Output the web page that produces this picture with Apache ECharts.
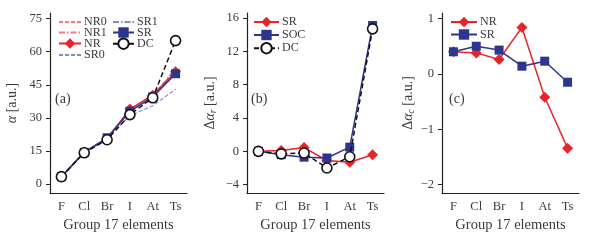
<!DOCTYPE html>
<html><head><meta charset="utf-8">
<script src="https://cdn.jsdelivr.net/npm/echarts@6/dist/echarts.min.js"></script>
<style>html,body{margin:0;padding:0;background:#fff}#c{width:590px;height:240px}</style>
</head><body><div id="c"></div>
<script>
const categories = ['F','Cl','Br','I','At','Ts'];
// panel (a): polarizability alpha
const aNR0 = [3.3, 14.6, 20.5, 33.5, 40.6, 51.6];
const aNR1 = [3.3, 14.5, 20.5, 33.8, 40.3, 51.1];
const aNR  = [3.4, 14.6, 20.5, 34.0, 40.3, 50.9];
const aSR0 = [3.3, 14.2, 20.8, 31.0, 35.5, 43.0];
const aSR1 = [3.3, 14.4, 21.2, 33.0, 39.0, 53.0];
const aSR  = [3.4, 14.4, 21.0, 33.0, 39.5, 50.0];
const aDC  = [3.4, 14.2, 20.1, 31.5, 39.1, 65.0];
// panel (b): delta alpha_r
const bSR  = [0.0, 0.1, 0.45, -1.1, -1.3, -0.4];
const bSOC = [0.0, -0.4, -0.7, -0.8, 0.5, 15.1];
const bDC  = [0.0, -0.3, -0.2, -2.0, -0.65, 14.7];
// panel (c): delta alpha_c
const cNR = [0.40, 0.38, 0.26, 0.84, -0.42, -1.34];
const cSR = [0.40, 0.50, 0.43, 0.14, 0.23, -0.15];
// tick labels
const aTicks = [0, 15, 30, 45, 60, 75];
const bTicks = [-4, 0, 4, 8, 12, 16];
const cTicks = [-2, -1, 0, 1];

const RED = '#e8242a', BLUE = '#2d3590', FONT = 'Liberation Serif', TXT = '#3a3a3a';
const chart = echarts.init(document.getElementById('c'), null, {renderer: 'canvas'});

const lefts = [50, 247, 442];
const grids = lefts.map(l => ({left: l, top: 13, width: 137, height: 180}));
const xAxes = lefts.map((l, i) => ({
  type: 'category', gridIndex: i, data: categories, boundaryGap: true,
  axisLine: {onZero: false, lineStyle: {color: '#222', width: 1.2}},
  axisTick: {alignWithLabel: true, length: 4, lineStyle: {color: '#222'}},
  axisLabel: {color: TXT, fontFamily: FONT, fontSize: 12.5, margin: 7},
  name: 'Group 17 elements', nameLocation: 'middle', nameGap: 22,
  nameTextStyle: {color: TXT, fontFamily: FONT, fontSize: 14.5}
}));
const fmt = v => String(v).replace('-', '\u2212');
function yAx(i, min, max, ticks, name, gap) {
  return {
    type: 'value', gridIndex: i, min: min, max: max, splitLine: {show: false},
    axisLine: {show: true, onZero: false, lineStyle: {color: '#222', width: 1.2}},
    axisTick: {show: true, length: 4, customValues: ticks, lineStyle: {color: '#222'}},
    axisLabel: {color: TXT, fontFamily: FONT, fontSize: 12.5, margin: 8, customValues: ticks, formatter: fmt},
    name: name, nameLocation: 'middle', nameRotate: 90, nameGap: gap,
    nameTextStyle: {color: TXT, fontFamily: FONT, fontSize: 14,
      rich: {
        i: {fontFamily: FONT, fontStyle: 'italic', fontSize: 14, color: TXT, lineHeight: 16},
        n: {fontFamily: FONT, fontSize: 14, color: TXT, lineHeight: 16},
        s: {fontFamily: FONT, fontStyle: 'italic', fontSize: 9.5, color: TXT, lineHeight: 9, verticalAlign: 'bottom'}
      }}
  };
}
const yAxes = [
  yAx(0, -4, 77.5, aTicks, '{i|α} {n|[a.u.]}', 30),
  yAx(1, -5, 16.6, bTicks, '{n|Δ}{i|α}{s|r}{n| [a.u.]}', 29),
  yAx(2, -2.15, 1.1, cTicks, '{n|Δ}{i|α}{s|c}{n| [a.u.]}', 26)
];

function line(name, data, idx, opt) {
  return Object.assign({
    type: 'line', name: name, data: data, xAxisIndex: idx, yAxisIndex: idx,
    animation: false, showSymbol: true
  }, opt);
}
const thin = (color, type, z) => ({symbol: 'none', z: z, lineStyle: {color: color, width: 1.1, type: type, opacity: 0.75}, itemStyle: {color: color, opacity: 0.75}});
const nrStyle = z => ({symbol: 'diamond', symbolSize: 11, z: z, lineStyle: {color: RED, width: 1.5}, itemStyle: {color: RED}});
const srStyle = z => ({symbol: 'rect', symbolSize: 9, z: z, lineStyle: {color: BLUE, width: 1.5}, itemStyle: {color: BLUE}});
const dcStyle = z => ({symbol: 'circle', symbolSize: 10, z: z, lineStyle: {color: '#111', width: 1.5, type: [5, 3]}, itemStyle: {color: '#fff', borderColor: '#111', borderWidth: 1.6}});

const series = [
  line('NR0', aNR0, 0, thin('#f05050', [4, 2], 2)),
  line('NR1', aNR1, 0, thin('#f05050', [6, 2, 1.5, 2], 2)),
  line('SR0', aSR0, 0, thin('#5a63b0', [4, 2], 2)),
  line('SR1', aSR1, 0, thin('#5a63b0', [6, 2, 1.5, 2], 2)),
  line('NR', aNR, 0, nrStyle(3)),
  line('SR', aSR, 0, srStyle(4)),
  line('DC', aDC, 0, dcStyle(5)),
  line('SR ', bSR, 1, nrStyle(3)),
  line('SOC', bSOC, 1, srStyle(4)),
  line('DC ', bDC, 1, dcStyle(5)),
  line('NR  ', cNR, 2, nrStyle(3)),
  line('SR  ', cSR, 2, srStyle(4))
];

function leg(name, left, cy, w, noSym) {
  const o = {data: [name], left: left, top: cy - 7, itemWidth: w, itemHeight: 13, itemGap: 0,
    padding: 0, selectedMode: false,
    textStyle: {color: TXT, fontFamily: FONT, fontSize: 12, padding: [0, 0, 0, -2]},
    formatter: n => n.trim()};
  if (noSym) o.itemStyle = {opacity: 0};
  return o;
}
const legends = [
  leg('NR0', 58, 23, 22, true), leg('NR1', 58, 33.5, 22, true), leg('NR', 58, 44.5, 22), leg('SR0', 58, 56, 22, true),
  leg('SR1', 112, 23, 21, true), leg('SR', 112, 33.5, 21), leg('DC', 112, 44.5, 21),
  leg('SR ', 253, 23, 25), leg('SOC', 253, 36, 25), leg('DC ', 253, 49, 25),
  leg('NR  ', 450, 23, 26), leg('SR  ', 450, 35.5, 26)
];

const label = (t, x) => ({type: 'text', left: x, top: 92, style: {text: t, fill: TXT, font: '14px "Liberation Serif"'}});

chart.setOption({
  animation: false,
  grid: grids, xAxis: xAxes, yAxis: yAxes, series: series, legend: legends,
  graphic: [label('(a)', 55), label('(b)', 251), label('(c)', 449)]
});
</script></body></html>
